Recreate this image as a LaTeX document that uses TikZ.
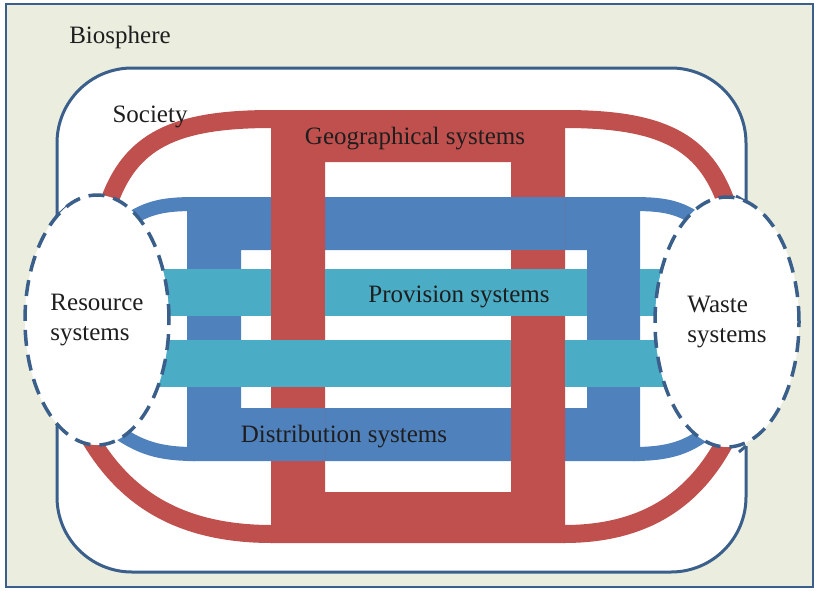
\documentclass[tikz,border=0pt]{standalone}
\usepackage{fontspec}
\setmainfont{Liberation Serif}
\usepackage{xcolor}
\usetikzlibrary{shapes.geometric}

\definecolor{geored}{HTML}{C0504D}
\definecolor{distblue}{HTML}{4F81BD}
\definecolor{provteal}{HTML}{4BACC6}
\definecolor{edgeblue}{HTML}{3A5F8A}
\definecolor{biobg}{HTML}{EBEEDF}
\definecolor{txtdark}{HTML}{1E1E1E}

\begin{document}
\begin{tikzpicture}[x=1pt,y=-1pt]
            \tikzset{tag/.style = {font=\fontsize{25}{30}\selectfont, text=txtdark, inner sep=0pt}}
            \tikzset{society/.style = {draw=edgeblue, line width=3pt}}
            \tikzset{redband/.style = {draw=geored, line width=18pt}}
            \tikzset{blueband/.style = {draw=distblue, line width=14pt}}
            \tikzset{sysellipse/.style = {ellipse, draw=edgeblue, fill=white, line width=3.5pt,
                dash pattern=on 16pt off 9pt, minimum width=144pt, minimum height=250pt,
                inner sep=0pt, align=left, tag}}
            \useasboundingbox (0,0) rectangle (817,590);

            % biosphere
            \draw[edgeblue, line width=2.5pt, fill=biobg] (6,4) rectangle (813,587);

            % society
            \fill[white, rounded corners=75pt] (57,68) rectangle (746,572);
            \draw[society, rounded corners=75pt] (57,216) -- (57,68) -- (746,68) -- (746,202);
            \draw[society, rounded corners=75pt] (746,446) -- (746,572) -- (57,572) -- (57,424);
            \draw[society] (57,216) -- (69,205);
            \draw[society] (746,202) -- (736,196);
            \draw[society] (57,424) -- (65,431);
            \draw[society] (746,446) -- (739,452);

            % distribution systems
            \fill[distblue, even odd rule] (187,197) rectangle (640,461) (241,250) rectangle (587,408);
            \draw[blueband] (195,204) .. controls (160,204) and (145,208) .. (120,226);
            \draw[blueband] (633,204) .. controls (668,204) and (683,208) .. (706,226);
            \draw[blueband] (195,454) .. controls (160,454) and (140,448) .. (115,430);
            \draw[blueband] (633,454) .. controls (668,454) and (688,448) .. (710,430);

            % geographical systems
            \fill[geored, even odd rule] (271,110) rectangle (565,543) (325,162) rectangle (511,492);
            \draw[redband] (272,119) .. controls (175,119) and (130,140) .. (108,205);
            \draw[redband] (564,119) .. controls (660,119) and (705,140) .. (727,205);
            \draw[redband] (272,534) .. controls (170,534) and (120,490) .. (88,435);
            \draw[redband] (564,534) .. controls (655,534) and (700,490) .. (727,438);
            \foreach \xa/\ya/\xb/\yb in {511/197/565/250, 271/408/325/461}
            {
              \fill[distblue] (\xa,\ya) rectangle (\xb,\yb);
            }

            % provision systems
            \foreach \ya/\yb in {269/316, 340/387}
            {
              \fill[provteal] (150,\ya) rectangle (665,\yb);
            }
            \foreach \xa/\ya/\xb/\yb/\c in {271/269/325/316/geored, 587/269/640/316/distblue, 511/340/565/387/geored}
            {
              \fill[\c] (\xa,\ya) rectangle (\xb,\yb);
            }

            % resource and waste systems
            \node[sysellipse] (res) at (97,320) {Resource\\systems};
            \node[sysellipse] (waste) at (727,322) {Waste\\systems};

            % labels
            \node[tag, anchor=base] (bio) at (120,43) {Biosphere};
            \node[tag, anchor=base] (soc) at (150,122) {Society};
            \node[tag, anchor=base] (geo) at (415,144) {Geographical systems};
            \node[tag, anchor=base] (prov) at (459,302) {Provision systems};
            \node[tag, anchor=base] (dist) at (344,442) {Distribution systems};
\end{tikzpicture}
\end{document}
